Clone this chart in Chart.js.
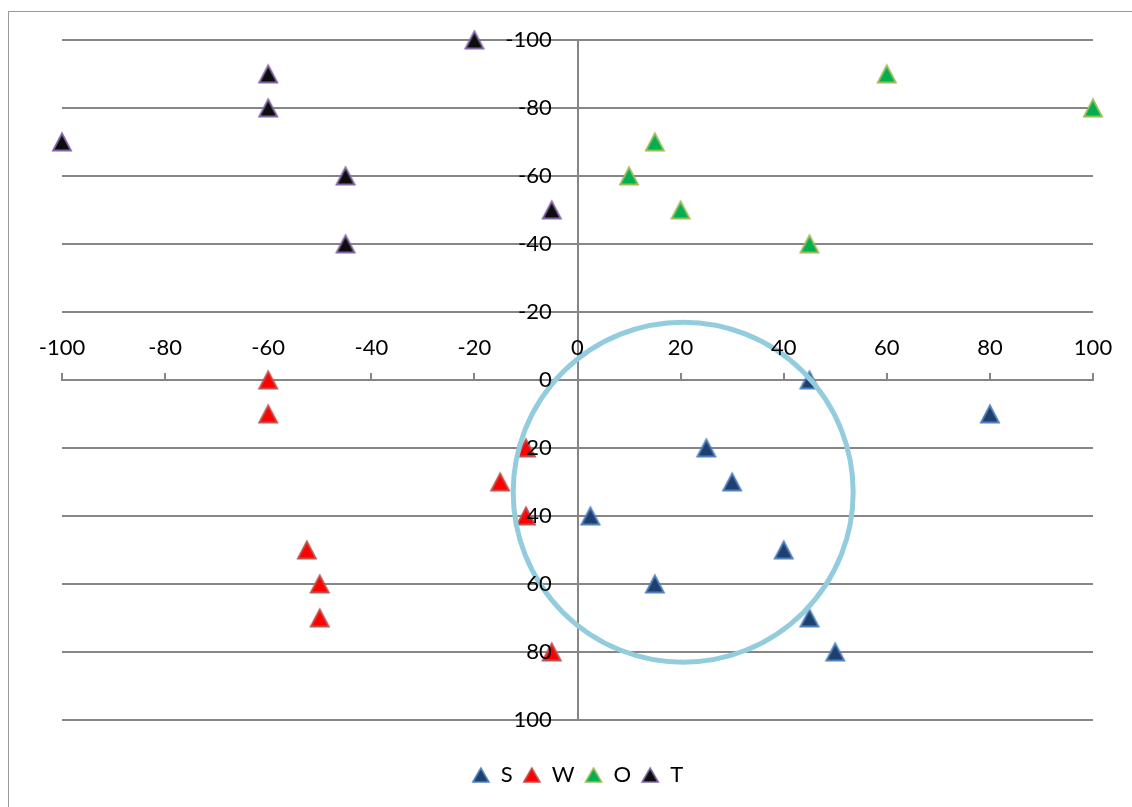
<!DOCTYPE html>
<html>
<head>
<meta charset="utf-8">
<script src="https://cdn.jsdelivr.net/npm/chart.js@4.4.0/dist/chart.umd.min.js"></script>
<style>
html,body{margin:0;padding:0;background:#fff;overflow:hidden;}
#wrap{position:relative;width:1132px;height:807px;overflow:hidden;}
#frame{position:absolute;left:8px;top:11px;width:1300px;height:1000px;border-left:1.5px solid #9a9a9a;border-top:1.5px solid #9a9a9a;}
canvas{position:absolute;left:0;top:0;}
</style>
</head>
<body>
<div id="wrap"><div id="frame"></div><canvas id="c" width="1132" height="807"></canvas></div>
<script>
// ---- data ----
const seriesNames = ['S', 'W', 'O', 'T'];
const sX = [45, 80, 25, 30, 2.5, 40, 15, 45, 50];
const sY = [0, 10, 20, 30, 40, 50, 60, 70, 80];
const wX = [-60, -60, -10, -15, -10, -52.5, -50, -50, -5];
const wY = [0, 10, 20, 30, 40, 50, 60, 70, 80];
const oX = [60, 100, 15, 10, 20, 45];
const oY = [-90, -80, -70, -60, -50, -40];
const tX = [-20, -60, -60, -100, -45, -5, -45];
const tY = [-100, -90, -80, -70, -60, -50, -40];
const ringX = [20.5];
const ringY = [33];
const xTickValues = [-100, -80, -60, -40, -20, 0, 20, 40, 60, 80, 100];
const yTickValues = [-100, -80, -60, -40, -20, 0, 20, 40, 60, 80, 100];

// ---- styles ----
const FONT = "Lato, 'Open Sans', 'Liberation Sans', sans-serif";
Chart.defaults.font.family = FONT;
Chart.defaults.font.size = 22;
Chart.defaults.color = '#000';

function tri(w, h, fill, stroke, lw) {
  const c = document.createElement('canvas');
  const pad = Math.ceil(lw) + 1;
  c.width = w + 2 * pad; c.height = h + 2 * pad;
  const g = c.getContext('2d');
  g.beginPath();
  g.moveTo(pad, pad + h);
  g.lineTo(pad + w, pad + h);
  g.lineTo(pad + w / 2, pad);
  g.closePath();
  g.fillStyle = fill; g.fill();
  g.lineWidth = lw; g.strokeStyle = stroke; g.lineJoin = 'miter'; g.stroke();
  return c;
}
const palette = [
  {fill: '#1F3F6F', stroke: '#4F81BD'},
  {fill: '#FF0000', stroke: '#C0504D'},
  {fill: '#00B050', stroke: '#9BBB59'},
  {fill: '#0D0D0D', stroke: '#8064A2'}
];
const plotTris = palette.map(p => tri(18, 17, p.fill, p.stroke, 1.8));
const legendTris = palette.map(p => tri(16, 14, p.fill, p.stroke, 1.6));

const xs = [sX, wX, oX, tX];
const ys = [sY, wY, oY, tY];
const datasets = seriesNames.map((name, k) => ({
  label: name,
  data: xs[k].map((x, i) => ({x: x, y: ys[k][i]})),
  pointStyle: plotTris[k],
  radius: 10,
  hoverRadius: 10,
  backgroundColor: palette[k].fill,
  borderColor: palette[k].stroke,
  showLine: false,
  clip: false,
  order: 0
}));
datasets.push({
  type: 'bubble',
  label: '__ring',
  data: ringX.map((x, i) => ({x: x, y: ringY[i]})),
  radius: 170,
  hoverRadius: 0,
  borderColor: '#93CDDD',
  borderWidth: 5,
  backgroundColor: 'rgba(0,0,0,0)',
  clip: false,
  order: -1
});

const GRID = '#868686';

new Chart(document.getElementById('c'), {
  type: 'scatter',
  data: {datasets: datasets},
  options: {
    responsive: false,
    animation: false,
    events: [],
    devicePixelRatio: 1,
    layout: {autoPadding: false, padding: {left: 62, right: 39, top: 40, bottom: 11}},
    scales: {
      x: {
        type: 'linear',
        position: {y: 0},
        min: -100, max: 100,
        afterBuildTicks: s => { s.ticks = xTickValues.map(v => ({value: v})); },
        grid: {
          drawOnChartArea: true,
          color: c => (c.tick && c.tick.value === 0) ? GRID : 'rgba(0,0,0,0)',
          lineWidth: 2,
          drawTicks: true, tickLength: -8, tickColor: GRID, tickWidth: 2
        },
        border: {display: true, color: GRID, width: 2},
        ticks: {padding: -37, maxRotation: 0, autoSkip: false, z: 1, callback: v => String(v)}
      },
      y: {
        type: 'linear',
        position: {x: 0},
        reverse: true,
        min: -100, max: 100,
        afterBuildTicks: s => { s.ticks = yTickValues.map(v => ({value: v})); },
        grid: {color: GRID, lineWidth: 2, drawTicks: false},
        border: {display: false},
        ticks: {display: false}
      },
      yLabels: {
        type: 'linear',
        axis: 'y',
        position: {x: -5},
        reverse: true,
        min: -100, max: 100,
        afterBuildTicks: s => { s.ticks = yTickValues.map(v => ({value: v})); },
        grid: {display: false, drawTicks: false},
        border: {display: false},
        ticks: {padding: 0, autoSkip: false, z: 1, callback: v => String(v)}
      },
      gap: {
        type: 'linear',
        position: 'bottom',
        display: true,
        grid: {display: false},
        border: {display: false},
        ticks: {display: false},
        afterFit: s => { s.height = 34; }
      }
    },
    plugins: {
      tooltip: {enabled: false},
      legend: {
        position: 'bottom',
        labels: {
          usePointStyle: true,
          pointStyleWidth: 18,
          padding: 10,
          color: '#000',
          font: {size: 22},
          generateLabels: chart => Chart.defaults.plugins.legend.labels.generateLabels(chart)
            .filter(l => l.text !== '__ring')
            .map(l => Object.assign(l, {pointStyle: legendTris[l.datasetIndex]}))
        }
      }
    }
  }
});
</script>
</body>
</html>
